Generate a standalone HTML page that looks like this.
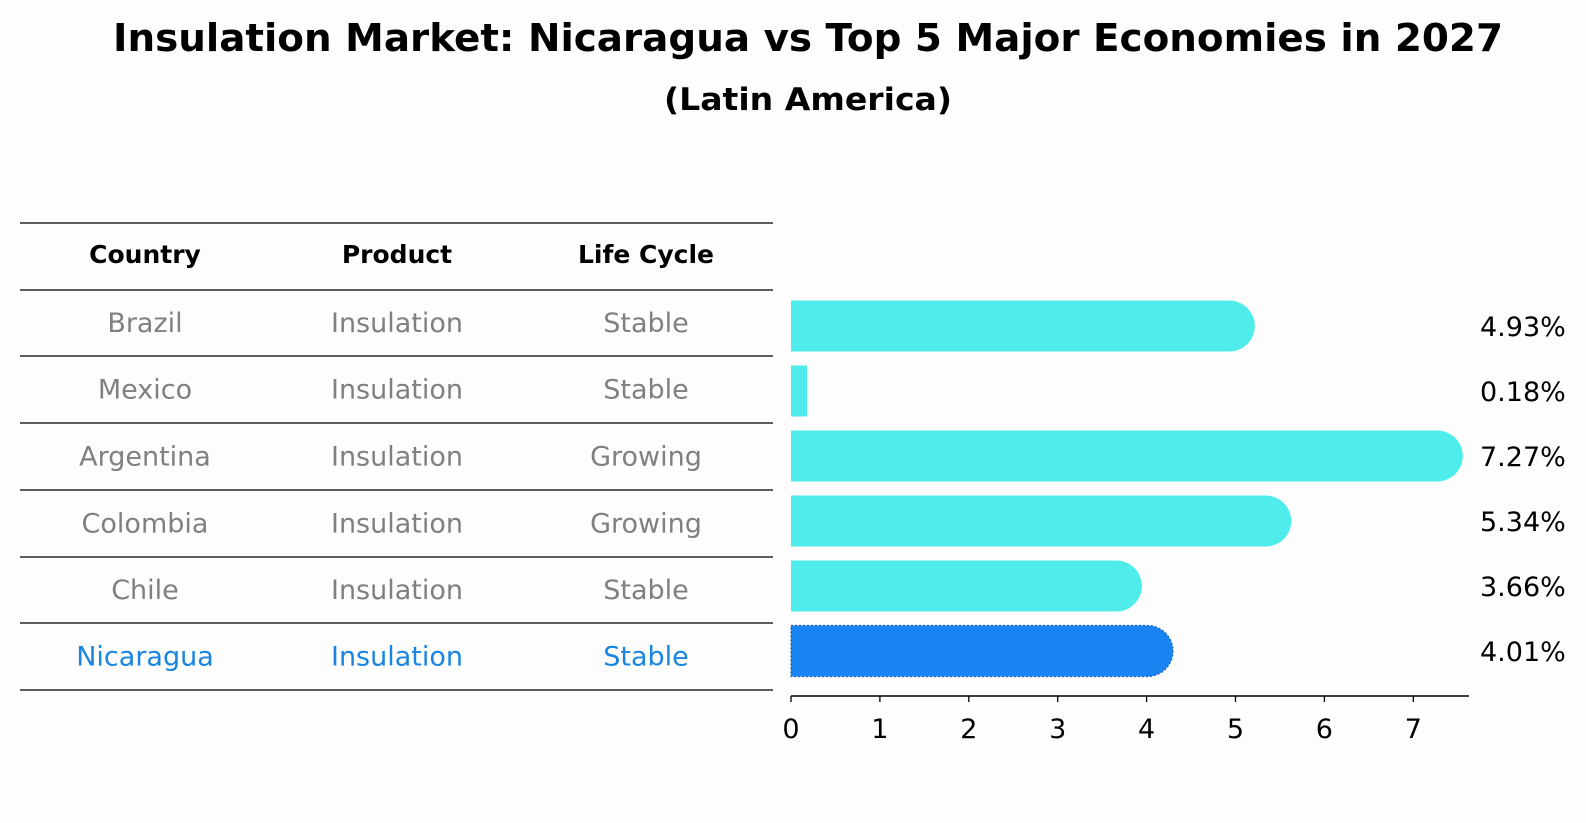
<!DOCTYPE html>
<html><head><meta charset="utf-8"><style>
html,body{margin:0;padding:0;background:#fdfdfd;}
svg{display:block;font-family:"DejaVu Sans","Liberation Sans",sans-serif;}
</style></head><body>
<svg id="chart" width="1586" height="823" viewBox="0 0 1586 823">
<rect width="1586" height="823" fill="#fdfdfd"/>
<text x="808" y="51" text-anchor="middle" font-size="38" font-weight="bold" textLength="1390" lengthAdjust="spacingAndGlyphs">Insulation Market: Nicaragua vs Top 5 Major Economies in 2027</text>
<text x="808" y="110" text-anchor="middle" font-size="31" font-weight="bold" textLength="288" lengthAdjust="spacingAndGlyphs">(Latin America)</text>
<g id="table"></g>
<g id="bars"></g>
</svg>
<script>
const countries = ["Brazil","Mexico","Argentina","Colombia","Chile","Nicaragua"];
const products = ["Insulation","Insulation","Insulation","Insulation","Insulation","Insulation"];
const lifeCycles = ["Stable","Stable","Growing","Growing","Stable","Stable"];
const values = [4.93,0.18,7.27,5.34,3.66,4.01];
const valueLabels = ["4.93%","0.18%","7.27%","5.34%","3.66%","4.01%"];
const ticks = [0,1,2,3,4,5,6,7];

const NS="http://www.w3.org/2000/svg";
function mk(tag,attrs,parent){const e=document.createElementNS(NS,tag);for(const k in attrs)e.setAttribute(k,attrs[k]);parent.appendChild(e);return e;}
const x0=791, unit=88.9;
function xs(v){return x0+v*unit;}
function ys(i){return 326+i*65;}
const barH=51;

const tg=document.getElementById('table');
const lineYs=[223,290,356,423,490,557,623,690];
lineYs.forEach((y,i)=>{
  const l=mk('line',{x1:20,x2:773,y1:y,y2:y,stroke:'#000','stroke-width':1.2},tg);
  
  
});
const colX=[145,397,646];
["Country","Product","Life Cycle"].forEach((h,j)=>{
  const t=mk('text',{x:colX[j],y:263,'text-anchor':'middle','font-size':25,'font-weight':'bold'},tg);
  t.textContent=h;
  
  
});
countries.forEach((c,i)=>{
  const cy=(lineYs[i+1]+lineYs[i+2])/2;
  const col=i===countries.length-1?'#1a85e0':'#808080';
  [c,products[i],lifeCycles[i]].forEach((v,j)=>{
    const t=mk('text',{x:colX[j],y:cy+9,'text-anchor':'middle','font-size':27,fill:col},tg);
    t.textContent=v;
    
    
  });
});

const bg=document.getElementById('bars');
values.forEach((v,i)=>{
  const hl=i===values.length-1;
  const fill=hl?'#1a85f2':'#4eecea';
  const cy=ys(i), top=cy-barH/2, xe=xs(v), w=xe-x0;
  let d;
  if(w>barH/2){
    d=`M${x0},${top} H${xe} A${barH/2},${barH/2} 0 0 1 ${xe},${top+barH} H${x0} Z`;
  } else {
    d=`M${x0},${top} H${xe} V${top+barH} H${x0} Z`;
  }
  const p=mk('path',{d:d,fill:fill},bg);
  if(hl){p.setAttribute('stroke','#1560c0');p.setAttribute('stroke-width','1.2');p.setAttribute('stroke-dasharray','2,2');}
  
  
  const t=mk('text',{x:1480,y:ys(i)+10,'font-size':27,fill:'#000'},bg);
  t.textContent=valueLabels[i];
  
  
});
const ax=mk('line',{x1:x0,x2:1469,y1:696,y2:696,stroke:'#000','stroke-width':1.5},bg);


ticks.forEach(tv=>{
  const tl=mk('line',{x1:xs(tv),x2:xs(tv),y1:696,y2:702,stroke:'#000','stroke-width':1.3},bg);
  
  
  const t=mk('text',{x:xs(tv),y:738,'text-anchor':'middle','font-size':27},bg);
  t.textContent=String(tv);
  
  
});
</script>
</body></html>
